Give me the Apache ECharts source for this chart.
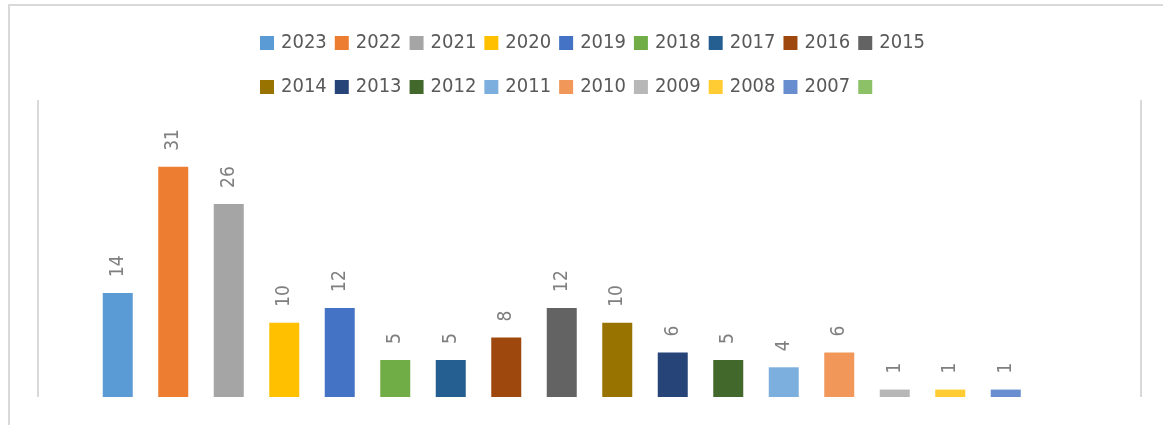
<!DOCTYPE html>
<html>
<head>
<meta charset="utf-8">
<script src="https://cdn.jsdelivr.net/npm/echarts@6/dist/echarts.min.js"></script>
<style>
  html, body { margin: 0; padding: 0; background: #fff; overflow: hidden; width: 1163px; height: 425px; }
  .edge { position: absolute; background: #d9d9d9; }
  #edgeTop { left: 8px; top: 4px; width: 1155px; height: 2px; }
  #edgeLeft { left: 8px; top: 4px; width: 2px; height: 421px; }
  #chart { position: absolute; left: 0; top: 0; width: 1163px; height: 425px; }
</style>
</head>
<body>
<div class="edge" id="edgeTop"></div>
<div class="edge" id="edgeLeft"></div>
<div id="chart"></div>
<script>
// years (series), last one is the blank entry in the legend
var years = ['2023','2022','2021','2020','2019','2018','2017','2016','2015',
             '2014','2013','2012','2011','2010','2009','2008','2007',' '];
var counts = [14, 31, 26, 10, 12, 5, 5, 8, 12, 10, 6, 5, 4, 6, 1, 1, 1, null];
var colors = ['#5B9BD5','#ED7D31','#A5A5A5','#FFC000','#4472C4','#70AD47','#255E91','#9E480E','#636363',
              '#997300','#264478','#43682B','#7CAFDD','#F1975A','#B7B7B7','#FFCD33','#698ED0','#8CC168'];

var fontName = "'Liberation Sans Narrow', 'DejaVu Sans Condensed', 'Liberation Sans', sans-serif";

var legendText = {
    color: '#595959',
    fontSize: 20,
    fontFamily: fontName,
    lineHeight: 20,
    padding: [0, 0, 0, 2]
};

var series = [];
for (var i = 0; i < years.length; i++) {
    series.push({
        name: years[i],
        type: 'bar',
        barWidth: 30,
        barGap: '85%',
        itemStyle: { color: colors[i] },
        label: {
            show: true,
            position: 'top',
            rotate: 90,
            align: 'left',
            verticalAlign: 'middle',
            distance: 16,
            color: '#7f7f7f',
            fontSize: 19,
            fontFamily: fontName
        },
        data: [counts[i]]
    });
}

var chart = echarts.init(document.getElementById('chart'));
var option = {
    animation: false,
    color: colors,
    legend: [
        {
            data: years.slice(0, 9),
            left: 260, top: 33, padding: 0,
            itemWidth: 14, itemHeight: 14, itemGap: 8,
            icon: 'rect',
            textStyle: legendText
        },
        {
            data: years.slice(9),
            left: 260, top: 77, padding: 0,
            itemWidth: 14, itemHeight: 14, itemGap: 8,
            icon: 'rect',
            textStyle: legendText
        }
    ],
    grid: { left: 38, right: 22, top: 100, bottom: 28 },
    xAxis: {
        type: 'category',
        data: [''],
        axisLine: { show: false },
        axisTick: { show: false },
        axisLabel: { show: false },
        splitLine: { show: true, lineStyle: { color: '#d9d9d9', width: 2 } }
    },
    yAxis: {
        type: 'value',
        min: 0,
        max: 40,
        show: false
    },
    series: series
};
chart.setOption(option);
</script>
</body>
</html>
